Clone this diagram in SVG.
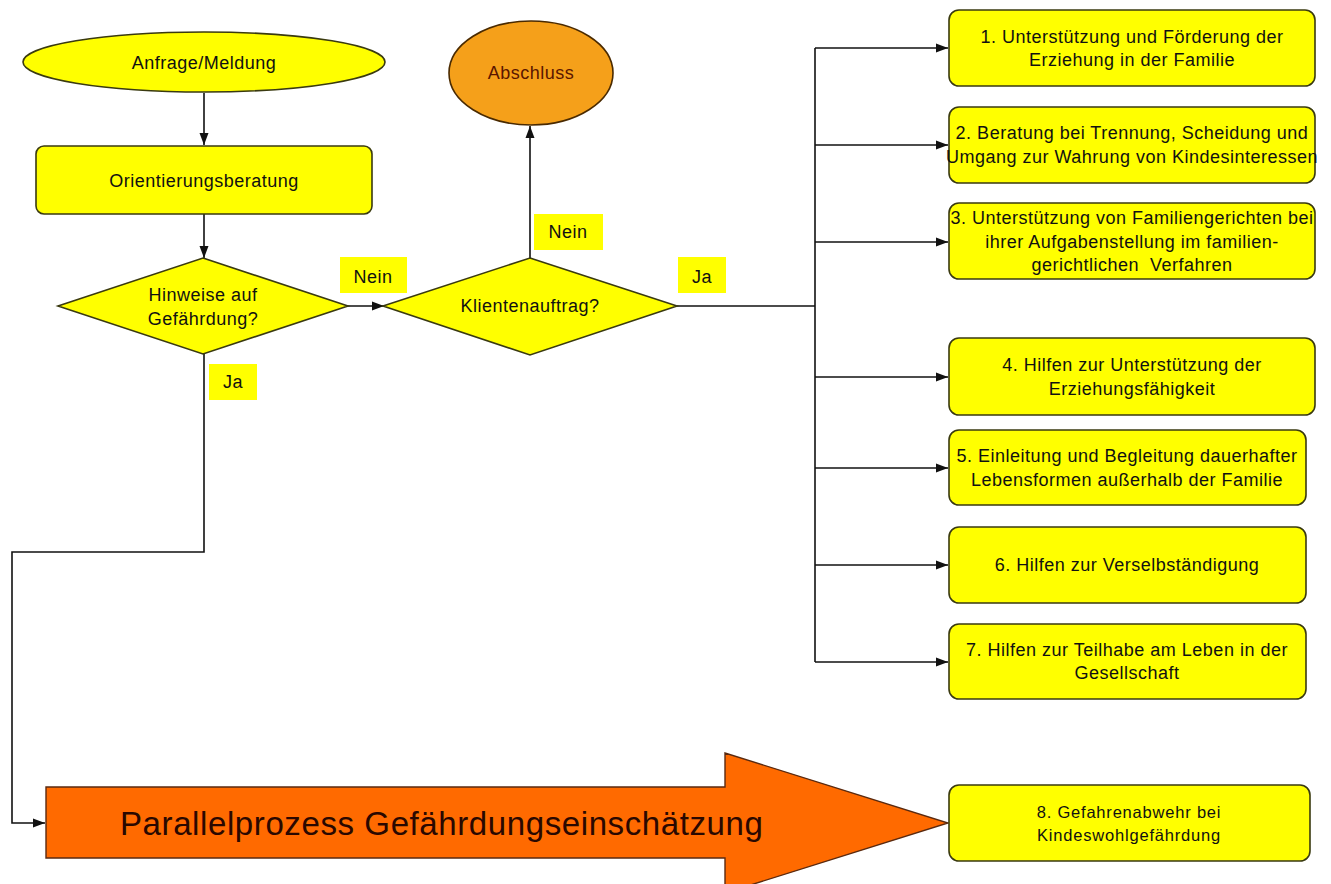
<svg xmlns="http://www.w3.org/2000/svg" width="1331" height="884" viewBox="0 0 1331 884">
<defs>
<style>
.t{font-family:"Liberation Sans",Arial,sans-serif;font-size:18px;letter-spacing:0.5px;fill:#111;text-anchor:middle}
.box{fill:#ffff00;stroke:#3a3a10;stroke-width:1.6}
.lbl{fill:#ffff00;stroke:none}
.c{fill:none;stroke:#111;stroke-width:1.6}
</style>
<marker id="ah" viewBox="0 0 12 10" refX="12" refY="5" markerWidth="12" markerHeight="10" markerUnits="userSpaceOnUse" orient="auto">
<path d="M0,0.5 L12,5 L0,9.5 z" fill="#111"/>
</marker>
</defs>
<rect width="1331" height="884" fill="#fff"/>

<g id="connectors">
<path class="c" d="M204,93 V145" marker-end="url(#ah)"/>
<path class="c" d="M204,214 V258" marker-end="url(#ah)"/>
<path class="c" d="M348,306 H384" marker-end="url(#ah)"/>
<path class="c" d="M530,258 V126" marker-end="url(#ah)"/>
<path class="c" d="M677,306 H815"/>
<path class="c" d="M815,48 V662"/>
<path class="c" d="M815,48 H948" marker-end="url(#ah)"/>
<path class="c" d="M815,145 H948" marker-end="url(#ah)"/>
<path class="c" d="M815,242 H948" marker-end="url(#ah)"/>
<path class="c" d="M815,377 H948" marker-end="url(#ah)"/>
<path class="c" d="M815,468 H948" marker-end="url(#ah)"/>
<path class="c" d="M815,565 H948" marker-end="url(#ah)"/>
<path class="c" d="M815,662 H948" marker-end="url(#ah)"/>
<path class="c" d="M204,354 V552 H12 V823 H45" marker-end="url(#ah)"/>
</g>

<g id="labels">
<rect class="lbl" x="340" y="257" width="67" height="36"/>
<text class="t" x="373" y="283">Nein</text>
<rect class="lbl" x="534" y="214" width="69" height="36"/>
<text class="t" x="568" y="238">Nein</text>
<rect class="lbl" x="678" y="257" width="48" height="36"/>
<text class="t" x="702" y="283">Ja</text>
<rect class="lbl" x="209" y="364" width="48" height="36"/>
<text class="t" x="233" y="388">Ja</text>
</g>

<g id="anfrage">
<ellipse class="box" cx="204" cy="62" rx="181" ry="30"/>
<text class="t" x="204" y="69">Anfrage/Meldung</text>
</g>

<g id="orientierung">
<rect class="box" x="36" y="146" width="336" height="68" rx="8"/>
<text class="t" x="204" y="187">Orientierungsberatung</text>
</g>

<g id="hinweise">
<polygon class="box" points="203,258 348,306 203,354 58,306"/>
<text class="t" x="203" y="301">Hinweise auf</text>
<text class="t" x="203" y="325">Gefährdung?</text>
</g>

<g id="abschluss">
<ellipse cx="531" cy="73" rx="82" ry="52" fill="#f5a01a" stroke="#4a2a00" stroke-width="1.6"/>
<text class="t" x="531" y="79" style="fill:#5a1600">Abschluss</text>
</g>

<g id="klientenauftrag">
<polygon class="box" points="530,258 677,306 530,355 383,306"/>
<text class="t" x="530" y="312">Klientenauftrag?</text>
</g>

<g id="box1">
<rect class="box" x="949" y="10" width="366" height="76" rx="10"/>
<text class="t" x="1132" y="43">1. Unterstützung und Förderung der</text>
<text class="t" x="1132" y="66">Erziehung in der Familie</text>
</g>
<g id="box2">
<rect class="box" x="949" y="107" width="366" height="76" rx="10"/>
<text class="t" x="1132" y="139">2. Beratung bei Trennung, Scheidung und</text>
<text class="t" x="1132" y="163">Umgang zur Wahrung von Kindesinteressen</text>
</g>
<g id="box3">
<rect class="box" x="949" y="203" width="366" height="76" rx="10"/>
<text class="t" x="1132" y="224">3. Unterstützung von Familiengerichten bei</text>
<text class="t" x="1132" y="248">ihrer Aufgabenstellung im familien-</text>
<text class="t" x="1132" y="271" xml:space="preserve">gerichtlichen  Verfahren</text>
</g>
<g id="box4">
<rect class="box" x="949" y="338" width="366" height="77" rx="10"/>
<text class="t" x="1132" y="371">4. Hilfen zur Unterstützung der</text>
<text class="t" x="1132" y="395">Erziehungsfähigkeit</text>
</g>
<g id="box5">
<rect class="box" x="949" y="430" width="357" height="75" rx="10"/>
<text class="t" x="1127" y="462">5. Einleitung und Begleitung dauerhafter</text>
<text class="t" x="1127" y="486">Lebensformen außerhalb der Familie</text>
</g>
<g id="box6">
<rect class="box" x="949" y="527" width="357" height="76" rx="10"/>
<text class="t" x="1127" y="571">6. Hilfen zur Verselbständigung</text>
</g>
<g id="box7">
<rect class="box" x="949" y="624" width="357" height="75" rx="10"/>
<text class="t" x="1127" y="656">7. Hilfen zur Teilhabe am Leben in der</text>
<text class="t" x="1127" y="679">Gesellschaft</text>
</g>

<g id="parallel">
<polygon points="46,787 725,787 725,753 948,823 725,893 725,858 46,858" fill="#ff6a00" stroke="#5a2a10" stroke-width="1.4"/>
<text x="120" y="835" style="font-family:'Liberation Sans',Arial,sans-serif;font-size:33px;letter-spacing:0.6px;fill:#2a0800">Parallelprozess Gefährdungseinschätzung</text>
</g>

<g id="box8">
<rect class="box" x="949" y="785" width="361" height="76" rx="10"/>
<text class="t" x="1129" y="818" style="font-size:16.5px;letter-spacing:0.8px">8. Gefahrenabwehr bei</text>
<text class="t" x="1129" y="841" style="font-size:16.5px;letter-spacing:0.8px">Kindeswohlgefährdung</text>
</g>
</svg>
